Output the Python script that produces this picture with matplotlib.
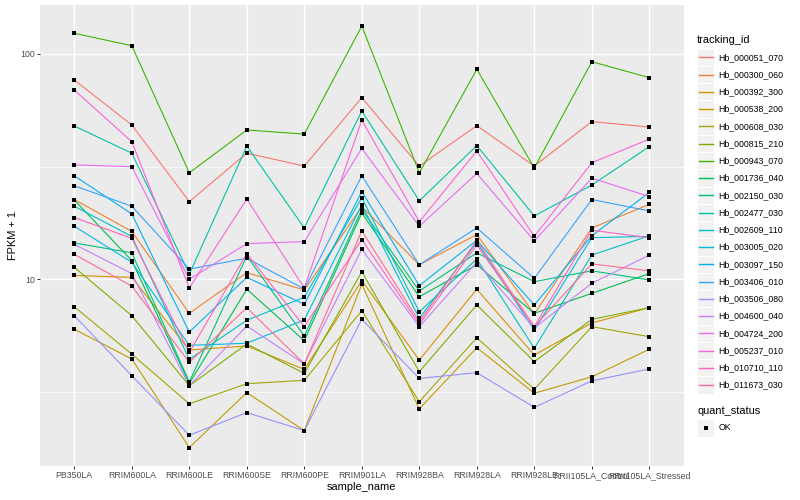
import matplotlib

matplotlib.use("Agg")
import matplotlib.pyplot as plt
from matplotlib.lines import Line2D
from matplotlib.patches import Rectangle

plt.rcParams["font.family"] = ["Liberation Sans", "DejaVu Sans"]

# Sample names on the x axis
sample_names = [
    "PB350LA", "RRIM600LA", "RRIM600LE", "RRIM600SE", "RRIM600PE", "RRIM901LA",
    "RRIM928BA", "RRIM928LA", "RRIM928LE", "RRII105LA_Control", "RRII105LA_Stressed",
]

# FPKM + 1 per gene
hb_000051_070 = [76.7, 48.4, 22.1, 36.3, 31.8, 64.0, 31.8, 48.1, 31.8, 50.1, 47.4]
hb_000300_060 = [22.6, 16.3, 7.06, 10.7, 8.96, 21.0, 11.6, 15.8, 7.01, 16.9, 21.5]
hb_000392_300 = [10.4, 10.2, 4.85, 5.06, 3.98, 9.86, 4.38, 9.03, 4.61, 6.40, 7.48]
hb_000538_200 = [6.00, 4.43, 1.79, 3.14, 2.13, 9.50, 2.66, 4.97, 3.12, 3.69, 4.89]
hb_000608_030 = [7.55, 4.65, 2.80, 3.44, 3.56, 7.25, 2.86, 5.50, 3.25, 6.16, 5.56]
hb_000815_210 = [11.3, 6.89, 3.37, 5.16, 3.82, 10.8, 3.89, 7.69, 4.31, 6.64, 7.48]
hb_000943_070 = [123.6, 108.8, 29.7, 46.0, 44.1, 133.1, 29.7, 85.5, 31.2, 92.4, 78.5]
hb_001736_040 = [22.5, 12.1, 3.45, 9.03, 5.34, 19.7, 8.37, 11.6, 7.06, 8.66, 10.6]
hb_002150_030 = [14.5, 13.1, 3.50, 12.7, 5.60, 20.4, 8.87, 13.1, 9.76, 10.9, 9.93]
hb_002477_030 = [47.9, 36.3, 10.55, 39.0, 16.9, 55.8, 22.3, 39.2, 19.1, 26.2, 38.8]
hb_002609_110 = [21.1, 15.5, 4.41, 6.58, 8.32, 23.0, 7.18, 12.3, 4.94, 12.8, 15.6]
hb_003005_020 = [17.2, 11.9, 5.09, 5.20, 6.60, 21.4, 6.71, 14.6, 5.95, 15.3, 15.5]
hb_003097_150 = [28.8, 19.5, 5.83, 10.2, 7.74, 24.5, 9.37, 14.9, 7.69, 15.6, 24.3]
hb_003406_010 = [26.0, 21.1, 11.1, 12.4, 9.05, 28.8, 11.6, 16.9, 10.1, 22.6, 20.1]
hb_003506_080 = [6.89, 3.73, 2.03, 2.56, 2.13, 6.64, 3.63, 3.85, 2.70, 3.54, 4.00]
hb_004600_040 = [14.3, 10.6, 3.37, 6.20, 4.21, 13.6, 6.16, 11.9, 6.08, 9.60, 12.8]
hb_004724_200 = [32.2, 31.6, 10.0, 14.4, 14.7, 38.1, 17.2, 29.5, 14.8, 28.1, 23.3]
hb_005237_010 = [69.2, 40.8, 9.15, 22.7, 9.15, 50.9, 18.0, 37.1, 15.5, 32.9, 41.9]
hb_010710_110 = [18.8, 15.2, 4.74, 13.0, 6.16, 15.0, 6.31, 14.2, 6.16, 16.5, 15.3]
hb_011673_030 = [12.9, 9.33, 4.28, 7.48, 4.21, 16.4, 6.48, 14.9, 6.16, 11.7, 10.9]

tracking_ids = [
    "Hb_000051_070", "Hb_000300_060", "Hb_000392_300", "Hb_000538_200",
    "Hb_000608_030", "Hb_000815_210", "Hb_000943_070", "Hb_001736_040",
    "Hb_002150_030", "Hb_002477_030", "Hb_002609_110", "Hb_003005_020",
    "Hb_003097_150", "Hb_003406_010", "Hb_003506_080", "Hb_004600_040",
    "Hb_004724_200", "Hb_005237_010", "Hb_010710_110", "Hb_011673_030",
]
series = [
    hb_000051_070, hb_000300_060, hb_000392_300, hb_000538_200, hb_000608_030,
    hb_000815_210, hb_000943_070, hb_001736_040, hb_002150_030, hb_002477_030,
    hb_002609_110, hb_003005_020, hb_003097_150, hb_003406_010, hb_003506_080,
    hb_004600_040, hb_004724_200, hb_005237_010, hb_010710_110, hb_011673_030,
]
quant_status = ["OK"]

# ggplot2 default hue palette for 20 groups
colors = [
    "#F8766D", "#EA8331", "#D89000", "#C09B00", "#A3A500", "#7CAE00", "#39B600",
    "#00BB4E", "#00BF7D", "#00C1A3", "#00BFC4", "#00BAE0", "#00B0F6", "#35A2FF",
    "#9590FF", "#C77CFF", "#E76BF3", "#FA62DB", "#FF62BC", "#FF6C91",
]

W, H = 800, 500
PX = 0.72  # points per pixel at dpi 100


def fx(x):
    return x / W


def fy(y):
    return 1 - y / H


fig = plt.figure(figsize=(8, 5), dpi=100)
fig.patch.set_facecolor("white")

# panel in pixel coordinates
left, right, top, bottom = 39.8, 683.8, 5, 466
ax = fig.add_axes([fx(left), fy(bottom), (right - left) / W, (bottom - top) / H])
ax.set_facecolor("#EBEBEB")
for s in ax.spines.values():
    s.set_visible(False)

xs = list(range(len(sample_names)))

# grid
ax.set_yscale("log")
ax.set_ylim(1.483, 165.0)
ax.set_xlim(-0.6, len(sample_names) - 1 + 0.6)
for v in [10, 100]:
    ax.axhline(v, color="white", lw=1.42 * PX, zorder=0)
for v in [10 ** 0.5, 10 ** 1.5]:
    ax.axhline(v, color="white", lw=0.71 * PX, zorder=0)
for x in xs:
    ax.axvline(x, color="white", lw=1.42 * PX, zorder=0)

# lines first, then points (like geom_line + geom_point)
for vals, col in zip(series, colors):
    ax.plot(xs, vals, color=col, lw=1.1 * PX, zorder=2, solid_capstyle="butt")
for vals in series:
    ax.plot(xs, vals, "s", color="black", markersize=3.6 * PX, zorder=3, markeredgewidth=0)

ax.set_yticks([10, 100])
ax.set_yticklabels(["10", "100"])
ax.yaxis.set_minor_locator(matplotlib.ticker.NullLocator())
ax.set_xticks(xs)
ax.set_xticklabels(sample_names)
ax.tick_params(axis="both", length=2.75 * PX, width=1.0 * PX, color="#333333",
               labelsize=8.8 * PX, labelcolor="#4D4D4D", pad=2.2 * PX)

ax.set_xlabel("sample_name", fontsize=11 * PX, labelpad=2.5 * PX)
ax.set_ylabel("FPKM + 1", fontsize=11 * PX, labelpad=2.5 * PX)

# legend: tracking_id
fig.text(fx(697), fy(40), "tracking_id", fontsize=11 * PX, ha="left", va="center")
key_w, key_h, step, y0 = 17.3, 17.3, 17.25, 57.3
for i, (tid, col) in enumerate(zip(tracking_ids, colors)):
    yc = y0 + i * step
    fig.patches.append(Rectangle((fx(697), fy(yc + key_h / 2)), key_w / W, key_h / H,
                                 transform=fig.transFigure, facecolor="#F2F2F2",
                                 edgecolor="white", lw=1.0 * PX, zorder=1))
    fig.lines.append(Line2D([fx(698.8), fx(712.5)], [fy(yc), fy(yc)], transform=fig.transFigure,
                            color=col, lw=1.4 * PX, zorder=5))
    fig.text(fx(718.5), fy(yc), tid, fontsize=8.8 * PX, ha="left", va="center")

# legend: quant_status
fig.text(fx(697), fy(411), "quant_status", fontsize=11 * PX, ha="left", va="center")
for i, qs in enumerate(quant_status):
    yc = 428 + i * step
    fig.patches.append(Rectangle((fx(697), fy(yc + key_h / 2)), key_w / W, key_h / H,
                                 transform=fig.transFigure, facecolor="#F2F2F2",
                                 edgecolor="white", lw=1.0 * PX, zorder=1))
    fig.lines.append(Line2D([fx(705.6)], [fy(yc)], transform=fig.transFigure, marker="s",
                            color="black", markersize=3.6 * PX, markeredgewidth=0, zorder=5))
    fig.text(fx(718.5), fy(yc), qs, fontsize=8.8 * PX, ha="left", va="center")

fig.savefig("out.png", dpi=100)
